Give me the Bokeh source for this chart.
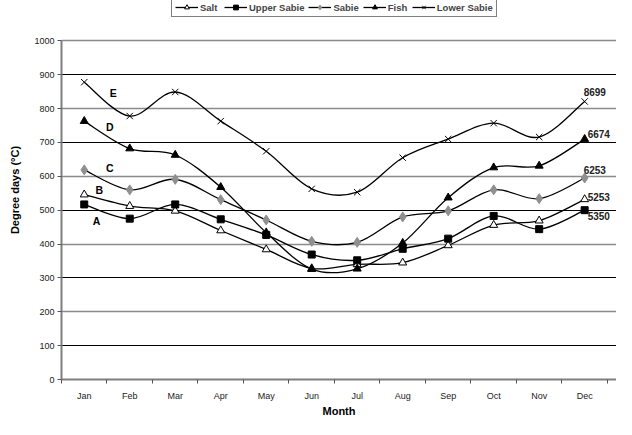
import numpy as np
from bokeh.plotting import figure
from bokeh.models import FixedTicker, Legend, LegendItem, Grid, Range1d, ColumnDataSource
from bokeh.core.properties import value
from bokeh.embed import file_html
from bokeh.resources import INLINE

months = ["Jan", "Feb", "Mar", "Apr", "May", "Jun", "Jul", "Aug", "Sep", "Oct", "Nov", "Dec"]
salt = [546, 512, 498, 440, 384, 328, 340, 345, 396, 456, 469, 532]
upper_sabie = [517, 475, 517, 473, 427, 369, 352, 386, 416, 483, 444, 500]
sabie = [619, 560, 591, 531, 471, 408, 405, 480, 498, 560, 534, 595]
fish = [763, 682, 663, 568, 434, 326, 327, 403, 537, 626, 631, 710]
lower_sabie = [878, 778, 849, 763, 674, 563, 553, 655, 710, 757, 716, 821]
series_names = ["Salt", "Upper Sabie", "Sabie", "Fish", "Lower Sabie"]
totals = ["5253", "5350", "6253", "6674", "8699"]
letters = ["A", "B", "C", "D", "E"]
y_ticks = list(range(0, 1001, 100))

FONT = "Liberation Sans"
W, H = 616, 419
BOTTOM = 34
FRAME_H = H - BOTTOM
TOP_PX = 41       # space (px) above the 1000 gridline, used by the legend
Y_MAX = 1000 * FRAME_H / (FRAME_H - TOP_PX)

p = figure(width=W, height=H, output_backend="svg", toolbar_location=None,
           x_range=Range1d(-0.5, 11.7), y_range=Range1d(0, Y_MAX),
           min_border_left=61, min_border_right=0, min_border_top=0, min_border_bottom=BOTTOM)
p.outline_line_color = None
p.background_fill_color = "white"
p.border_fill_color = "white"

xi = np.arange(len(months))

def smooth(vals):
    pts = np.array(vals, dtype=float)
    n = len(pts)
    x0, y0, x1, y1, cx0, cy0, cx1, cy1 = ([] for _ in range(8))
    for i in range(n - 1):
        a = max(i - 1, 0)
        d = min(i + 2, n - 1)
        x0.append(xi[i]); y0.append(pts[i])
        x1.append(xi[i + 1]); y1.append(pts[i + 1])
        cx0.append(xi[i] + (xi[i + 1] - xi[a]) / 6.0)
        cy0.append(pts[i] + (pts[i + 1] - pts[a]) / 6.0)
        cx1.append(xi[i + 1] - (xi[d] - xi[i]) / 6.0)
        cy1.append(pts[i + 1] - (pts[d] - pts[i]) / 6.0)
    return dict(x0=x0, y0=y0, x1=x1, y1=y1, cx0=cx0, cy0=cy0, cx1=cx1, cy1=cy1)

styles = [
    dict(marker="triangle", size=8, fill_color="white", line_color="black"),
    dict(marker="square", size=7, fill_color="black", line_color="black"),
    dict(marker="diamond", size=10, fill_color="#8f8f8f", line_color="#8f8f8f"),
    dict(marker="triangle", size=8, fill_color="black", line_color="black"),
    dict(marker="x", size=9, fill_color="black", line_color="black"),
]
data = [salt, upper_sabie, sabie, fish, lower_sabie]

items = []
for name, vals, st in zip(series_names, data, styles):
    br = p.bezier(source=ColumnDataSource(smooth(vals)), x0="x0", y0="y0", x1="x1", y1="y1",
                  cx0="cx0", cy0="cy0", cx1="cx1", cy1="cy1", line_color="black", line_width=1.3)
    sr = p.scatter(x=xi, y=vals, line_width=1, **st)
    items.append(LegendItem(label=name, renderers=[br, sr], index=0))

legend = Legend(items=items, orientation="horizontal", location=(110, FRAME_H - 23),
                glyph_width=23, glyph_height=12, label_height=12, label_standoff=2,
                spacing=4, padding=3, margin=0,
                label_text_font=FONT, label_text_font_size="9.5px", label_text_font_style="bold",
                border_line_color="black", border_line_width=1,
                background_fill_color="white", background_fill_alpha=1.0)
p.add_layout(legend, "center")

# grids: alternating dark / grey lines
p.xgrid.visible = False
p.ygrid.ticker = FixedTicker(ticks=[t for t in y_ticks if (t // 100) % 2 == 1])
p.ygrid.grid_line_color = "black"
p.ygrid.grid_line_width = 1
g2 = Grid(dimension=1, ticker=FixedTicker(ticks=[t for t in y_ticks if (t // 100) % 2 == 0 and t > 0]),
          grid_line_color="#8a8a8a", grid_line_width=1.3)
p.add_layout(g2)

# x axis
p.xaxis.ticker = FixedTicker(ticks=list(xi), minor_ticks=[i - 0.5 for i in range(len(months) + 1)])
p.xaxis.major_label_overrides = {int(i): m for i, m in zip(xi, months)}
p.xaxis.major_tick_line_color = None
p.xaxis.major_tick_out = 0
p.xaxis.major_tick_in = 0
p.xaxis.minor_tick_out = 4
p.xaxis.minor_tick_in = 0
p.xaxis.minor_tick_line_color = "#555555"
p.xaxis.major_label_standoff = 7
p.xaxis.axis_label = "Month"
p.xaxis.axis_label_standoff = 1

# y axis
p.yaxis.ticker = FixedTicker(ticks=y_ticks)
p.yaxis.bounds = (0, 1000)
p.yaxis.major_tick_out = 4
p.yaxis.major_tick_in = 0
p.yaxis.minor_tick_line_color = None
p.yaxis.major_tick_line_color = "#555555"
p.yaxis.major_label_standoff = 3
p.yaxis.axis_label = "Degree days (\u00b0C)"
p.yaxis.axis_label_standoff = 10

for ax in (p.xaxis[0], p.yaxis[0]):
    ax.axis_line_color = "#7f7f7f"
    ax.axis_line_width = 2
    ax.major_label_text_font = FONT
    ax.major_label_text_font_size = "9px"
    ax.major_label_text_color = "#222222"
    ax.axis_label_text_font = FONT
    ax.axis_label_text_font_size = "11px"
    ax.axis_label_text_font_style = "bold"
    ax.axis_label_text_color = "black"

# series letters near January
letter_x = [0.27, 0.33, 0.56, 0.56, 0.64]
letter_y = [467, 560, 624, 746, 847]
p.text(x=letter_x, y=letter_y, text=letters, text_font=value(FONT), text_font_size="10.5px",
       text_font_style="bold", text_align="center", text_baseline="middle", text_color="black")

# annual totals near December
tot_x = [11, 11, 11, 11, 11]
tot_y = [539, 483, 618, 726, 849]
tot_off = [3, 3, -1, 3, -1]
p.text(x=tot_x, y=tot_y, text=totals, x_offset=tot_off, text_font=value(FONT), text_font_size="10px",
       text_font_style="bold", text_align="left", text_baseline="middle", text_color="#222222")

open("out.html", "w").write(file_html(p, INLINE))
